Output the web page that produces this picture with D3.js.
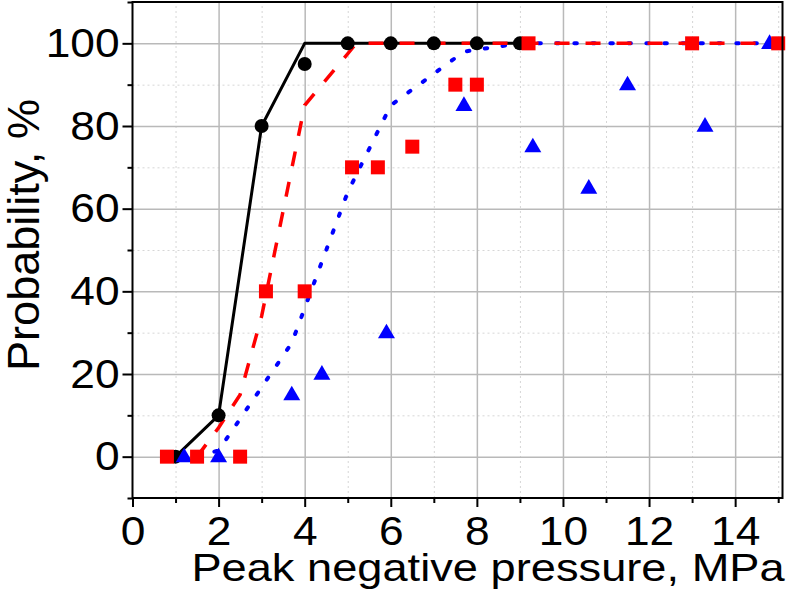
<!DOCTYPE html>
<html>
<head>
<meta charset="utf-8">
<script src="https://cdn.jsdelivr.net/npm/d3@7"></script>
<style>
  body { margin: 0; background: #fff; }
  svg { display: block; font-family: "Liberation Sans", Arial, sans-serif; }
  .grid-major line { stroke: #b9b9b9; stroke-width: 1.5; }
  .grid-minor line { stroke: #d6d6d6; stroke-width: 1; stroke-dasharray: 2,3; }
  .grid-major path, .grid-minor path { display: none; }
  .axis path { display: none; }
  .axis line { stroke: #000; stroke-width: 2; }
  .axis text { font-size: 41px; fill: #000; }
</style>
</head>
<body>
<div id="chart"></div>
<script>
// tick values
const xMajorTicks = [0, 2, 4, 6, 8, 10, 12, 14];
const xMinorTicks = [1, 3, 5, 7, 9, 11, 13, 15];
const yMajorTicks = [0, 20, 40, 60, 80, 100];
const yMinorTicks = [-10, 10, 30, 50, 70, 90, 110];

// black circles and solid fit
const blackX = [1, 2, 3, 4, 5, 6, 7, 8, 9];
const blackY = [0, 10, 80, 95, 100, 100, 100, 100, 100];
const blackFitX = [1, 2, 3, 4, 9];
const blackFitY = [0, 10, 80, 100, 100];

// red squares and dashed fit
const redX = [0.8, 1.5, 2.5, 3.1, 4, 5.1, 5.7, 6.5, 7.5, 8, 9.2, 13, 15];
const redY = [0, 0, 0, 40, 40, 70, 70, 75, 90, 90, 100, 100, 100];
const redFitX = [1.5, 2, 2.5, 3, 4, 5.2, 15];
const redFitY = [0, 7, 15, 34, 85, 100, 100];

// blue triangles and dotted fit
const blueX = [1.2, 2, 3.7, 4.4, 5.9, 7.7, 9.3, 10.6, 11.5, 13.3, 14.8];
const blueY = [0, 0, 15, 20, 30, 85, 75, 65, 90, 80, 100];
const blueFitX = [1.5, 2, 3.7, 5, 6, 7.7, 9, 15];
const blueFitY = [0, 1.5, 27.5, 64, 85, 98, 100, 100];

const WIDTH = 790;
const HEIGHT = 594;
const LEFT = 132.5, RIGHT = 782.5, TOP = 2, BOTTOM = 498;

const svg = d3.select("#chart")
    .append("svg")
    .attr("width", WIDTH)
    .attr("height", HEIGHT);

const x = d3.scaleLinear().domain([0, 15.1]).range([LEFT, RIGHT]);
const y = d3.scaleLinear().domain([-10, 110]).range([BOTTOM, TOP]);

// grid
svg.append("g").attr("class", "grid-minor")
    .attr("transform", `translate(0,${BOTTOM})`)
    .call(d3.axisBottom(x).tickValues(xMinorTicks).tickSize(-(BOTTOM - TOP)).tickFormat(""));
svg.append("g").attr("class", "grid-minor")
    .attr("transform", `translate(${LEFT},0)`)
    .call(d3.axisLeft(y).tickValues(yMinorTicks.slice(1, -1)).tickSize(-(RIGHT - LEFT)).tickFormat(""));
svg.append("g").attr("class", "grid-major")
    .attr("transform", `translate(0,${BOTTOM})`)
    .call(d3.axisBottom(x).tickValues(xMajorTicks.slice(1)).tickSize(-(BOTTOM - TOP)).tickFormat(""));
svg.append("g").attr("class", "grid-major")
    .attr("transform", `translate(${LEFT},0)`)
    .call(d3.axisLeft(y).tickValues(yMajorTicks).tickSize(-(RIGHT - LEFT)).tickFormat(""));

// fit lines
const zip = (xs, ys) => xs.map((v, i) => [v, ys[i]]);
const line = d3.line().x(d => x(d[0])).y(d => y(d[1]));

svg.append("path")
    .attr("d", line(zip(blackFitX, blackFitY)))
    .attr("fill", "none").attr("stroke", "#000").attr("stroke-width", 3)
    .attr("stroke-linejoin", "round");

svg.append("path")
    .attr("d", line(zip(blueFitX, blueFitY)))
    .attr("fill", "none").attr("stroke", "#0000ff").attr("stroke-width", 4)
    .attr("stroke-linecap", "round")
    .attr("stroke-dasharray", "2.5,15.5");

svg.append("path")
    .attr("d", line(zip(redFitX, redFitY)))
    .attr("fill", "none").attr("stroke", "#ff0000").attr("stroke-width", 3.5)
    .attr("stroke-dasharray", "15,16");

// markers
svg.append("g").selectAll("circle")
    .data(zip(blackX, blackY))
    .join("circle")
    .attr("cx", d => x(d[0]))
    .attr("cy", d => y(d[1]))
    .attr("r", 7)
    .attr("fill", "#000");

svg.append("g").selectAll("path")
    .data(zip(blueX, blueY))
    .join("path")
    .attr("transform", d => `translate(${x(d[0])},${y(d[1]) + 0.8})`)
    .attr("d", d3.symbol().type(d3.symbolTriangle).size(125))
    .attr("fill", "#0000ff");

svg.append("g").selectAll("path")
    .data(zip(redX, redY))
    .join("path")
    .attr("transform", d => `translate(${x(d[0])},${y(d[1])})`)
    .attr("d", d3.symbol().type(d3.symbolSquare).size(196))
    .attr("fill", "#ff0000");

// axes
const xAxis = svg.append("g").attr("class", "axis")
    .attr("transform", `translate(0,${BOTTOM})`)
    .call(d3.axisBottom(x).tickValues(xMajorTicks).tickSize(9).tickPadding(9).tickFormat(d3.format("d")));
xAxis.selectAll("text").attr("transform", "scale(1.08,1)");

svg.append("g").attr("class", "axis")
    .attr("transform", `translate(0,${BOTTOM})`)
    .call(d3.axisBottom(x).tickValues(xMinorTicks).tickSize(5).tickFormat(""));

const yAxis = svg.append("g").attr("class", "axis")
    .attr("transform", `translate(${LEFT},0)`)
    .call(d3.axisLeft(y).tickValues(yMajorTicks).tickSize(10).tickPadding(2).tickFormat(d3.format("d")));
yAxis.selectAll("text").attr("transform", "scale(1.08,1)");

svg.append("g").attr("class", "axis")
    .attr("transform", `translate(${LEFT},0)`)
    .call(d3.axisLeft(y).tickValues(yMinorTicks).tickSize(5).tickFormat(""));

// frame
svg.append("rect")
    .attr("x", LEFT).attr("y", TOP)
    .attr("width", RIGHT - LEFT).attr("height", BOTTOM - TOP)
    .attr("fill", "none").attr("stroke", "#000").attr("stroke-width", 2);

// axis titles
svg.append("text")
    .attr("transform", `translate(488,581) scale(1.16,1)`)
    .attr("text-anchor", "middle")
    .attr("font-size", 39)
    .text("Peak negative pressure, MPa");

svg.append("text")
    .attr("transform", `translate(39,235) rotate(-90)`)
    .attr("text-anchor", "middle")
    .attr("font-size", 45)
    .text("Probability, %");
</script>
</body>
</html>
